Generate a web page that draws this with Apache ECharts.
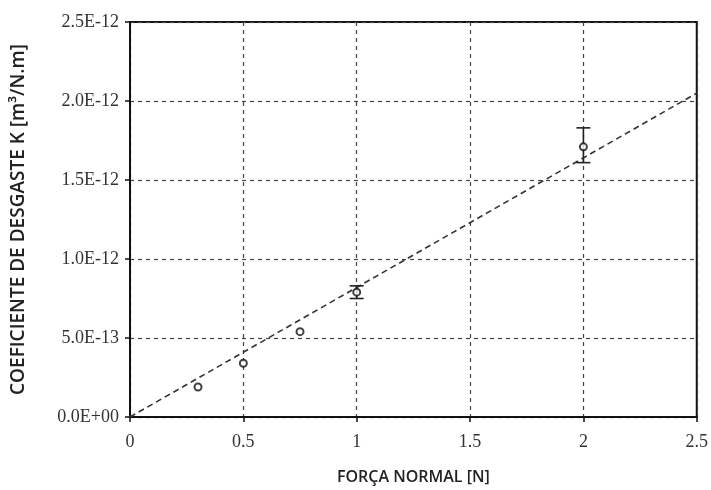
<!DOCTYPE html>
<html>
<head>
<meta charset="utf-8">
<script src="https://cdn.jsdelivr.net/npm/echarts@6/dist/echarts.min.js"></script>
<style>
  html, body { margin: 0; padding: 0; background: #fff; }
  #chart { width: 711px; height: 490px; }
</style>
</head>
<body>
<div id="chart"></div>
<script>
// Normal load [N] and mean wear coefficient K [m³/N.m]
const loads = [0.3, 0.5, 0.75, 1.0, 2.0];
const wearK = [1.9e-13, 3.4e-13, 5.4e-13, 7.9e-13, 1.71e-12];
const wearLow = [1.9e-13, 3.4e-13, 5.4e-13, 7.5e-13, 1.61e-12];
const wearHigh = [1.9e-13, 3.4e-13, 5.4e-13, 8.3e-13, 1.83e-12];

// Linear fit through the origin
const fitX = [0, 2.5];
const fitK = [0, 2.05e-12];

const xTickLabels = ['0', '0.5', '1', '1.5', '2', '2.5'];
const yTickLabels = ['0.0E+00', '5.0E-13', '1.0E-12', '1.5E-12', '2.0E-12', '2.5E-12'];

// Plot the K axis in units of 1E-12
const UNIT = 1e-12;
const toUnit = v => v / UNIT;

const points = loads.map((x, i) => [x, toUnit(wearK[i])]);
const bars = loads.map((x, i) => [x, toUnit(wearLow[i]), toUnit(wearHigh[i])]);
const fitLine = fitX.map((x, i) => [x, toUnit(fitK[i])]);

const chart = echarts.init(document.getElementById('chart'), null, { renderer: 'canvas' });

const gridDash = { color: '#444', width: 1.2, type: [4, 4] };

chart.setOption({
  animation: false,
  backgroundColor: '#fff',
  grid: {
    left: 130, right: 6, top: 22, bottom: 68,
    show: true, borderColor: '#111', borderWidth: 2, backgroundColor: 'transparent'
  },
  xAxis: {
    type: 'value', min: 0, max: 2.5, interval: 0.5,
    name: 'FORÇA NORMAL [N]', nameLocation: 'middle', nameGap: 52,
    nameTextStyle: { fontFamily: 'Open Sans', fontWeight: 600, fontSize: 16, color: '#222' },
    axisLine: { show: true, onZero: false, lineStyle: { color: '#111', width: 2 } },
    axisTick: { show: true, length: 5, lineStyle: { color: '#111', width: 1.5 } },
    axisLabel: {
      margin: 16, fontFamily: 'Liberation Serif', fontSize: 18, color: '#333',
      formatter: (v) => xTickLabels[Math.round(v / 0.5)]
    },
    splitLine: { show: true, lineStyle: gridDash }
  },
  yAxis: {
    type: 'value', min: 0, max: 2.5, interval: 0.5,
    name: 'COEFICIENTE DE DESGASTE K [m³/N.m]', nameLocation: 'middle', nameGap: 102,
    nameTextStyle: { fontFamily: 'Open Sans', fontWeight: 600, fontSize: 19, color: '#222' },
    axisLine: { show: true, onZero: false, lineStyle: { color: '#111', width: 2 } },
    axisTick: { show: true, length: 5, lineStyle: { color: '#111', width: 1.5 } },
    axisLabel: {
      margin: 11, fontFamily: 'Liberation Serif', fontSize: 18, color: '#333',
      formatter: (v) => yTickLabels[Math.round(v / 0.5)]
    },
    splitLine: { show: true, lineStyle: gridDash }
  },
  series: [
    {
      type: 'line',
      data: fitLine,
      symbol: 'none',
      lineStyle: { color: '#333', width: 1.6, type: [6, 4] },
      z: 2
    },
    {
      type: 'custom',
      data: bars,
      renderItem: (params, api) => {
        const x = api.value(0);
        const lo = api.coord([x, api.value(1)]);
        const hi = api.coord([x, api.value(2)]);
        if (Math.abs(lo[1] - hi[1]) < 1) return null;
        const w = 7;
        const style = { stroke: '#222', lineWidth: 1.6 };
        return {
          type: 'group',
          children: [
            { type: 'line', shape: { x1: lo[0], y1: lo[1], x2: hi[0], y2: hi[1] }, style },
            { type: 'line', shape: { x1: lo[0] - w, y1: lo[1], x2: lo[0] + w, y2: lo[1] }, style },
            { type: 'line', shape: { x1: hi[0] - w, y1: hi[1], x2: hi[0] + w, y2: hi[1] }, style }
          ]
        };
      },
      z: 3
    },
    {
      type: 'scatter',
      data: points,
      symbol: 'emptyCircle',
      symbolSize: 7,
      itemStyle: { color: '#111', borderColor: '#111', borderWidth: 2 },
      z: 4
    }
  ]
});
</script>
</body>
</html>
